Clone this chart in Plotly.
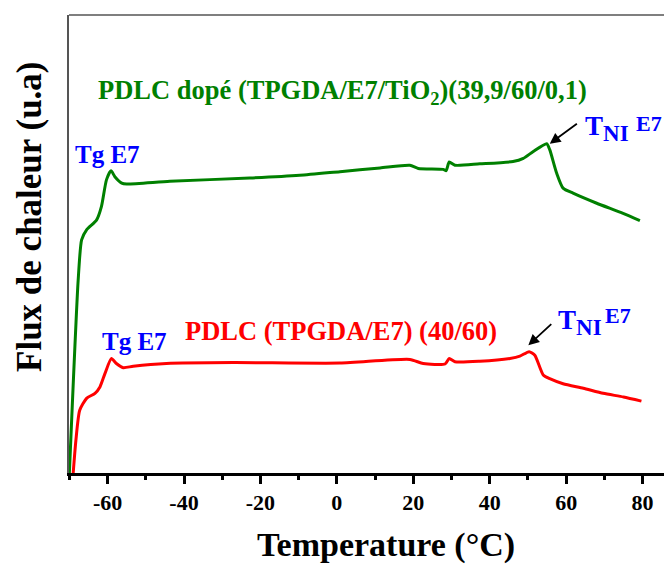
import plotly.graph_objects as go

# Temperature (°C) and heat flux (a.u.)
green_T = [-70.0, -67.7, -66.8, -65.5, -62.9, -61.6, -60.3, -59.1, -58.1, -56.3, -55.0,
           -43.7, -22.8, -9.7, 0.8, 11.3, 19.1, 21.3, 27.8, 28.6, 29.4, 30.9, 37.4,
           46.1, 48.8, 51.4, 54.9, 55.7, 57.5, 59.2, 61.8, 68.0, 74.9, 79.3]
green_Q = [0.0, 42.1, 50.9, 53.1, 55.2, 58.2, 64.0, 66.0, 64.7, 63.3, 63.1,
           63.7, 64.4, 65.0, 65.8, 66.6, 67.2, 66.5, 66.3, 66.0, 67.9, 67.2, 67.5,
           68.0, 68.7, 70.2, 71.9, 70.6, 65.5, 62.2, 61.1, 58.9, 56.7, 55.1]

red_T = [-69.0, -68.3, -67.3, -65.5, -63.3, -62.0, -60.7, -59.0, -57.7, -55.9, -53.3,
         -44.6, -27.1, 0.8, 19.1, 22.6, 28.3, 29.4, 30.9, 37.4, 45.3, 47.9, 50.3,
         51.8, 54.0, 55.7, 59.2, 64.5, 69.7, 75.0, 79.7]
red_Q = [0.0, 7.1, 13.7, 16.3, 17.4, 18.8, 21.7, 25.0, 23.9, 23.0, 23.3,
         23.9, 24.1, 24.0, 24.8, 23.9, 23.8, 25.0, 24.3, 24.4, 25.0, 25.5, 26.5,
         25.7, 21.4, 20.6, 19.5, 18.5, 17.4, 16.6, 15.7]

x_ticks = [-60, -40, -20, 0, 20, 40, 60, 80]

FONT = "Liberation Serif"

fig = go.Figure()
fig.add_trace(go.Scatter(x=green_T, y=green_Q, mode="lines",
                         line=dict(color="#008000", width=3, shape="spline", smoothing=0.6),
                         showlegend=False))
fig.add_trace(go.Scatter(x=red_T, y=red_Q, mode="lines",
                         line=dict(color="#ff0000", width=3, shape="spline", smoothing=0.6),
                         showlegend=False))

def txt(x, y, text, color, size, xanchor="left"):
    fig.add_annotation(x=x, y=y, xref="x", yref="y", text=text, showarrow=False,
                       xanchor=xanchor, yanchor="middle",
                       font=dict(family=FONT, size=size, color=color))

txt(-63.1, 83.2, "<b>PDLC dopé (TPGDA/E7/TiO<sub>2</sub>)(39,9/60/0,1)</b>", "#008000", 26.5)
txt(-40.3, 31.0, "<b>PDLC (TPGDA/E7) (40/60)</b>", "#ff0000", 26.5)
txt(-69.1, 69.5, "<b>Tg E7</b>", "#0000ff", 25)
txt(-62.0, 28.8, "<b>Tg E7</b>", "#0000ff", 25)
tni = "<b>T<sub><span style='font-size:23px'>NI</span></sub></b>"
txt(64.4, 75.3, tni, "#0000ff", 27)
txt(57.3, 32.9, tni, "#0000ff", 27)
txt(77.8, 76.4, "<b>E7</b>", "#0000ff", 22)
txt(69.6, 34.3, "<b>E7</b>", "#0000ff", 22)

for (tx, ty, hx, hy) in [(63.2, 76.5, 55.7, 71.9), (56.5, 32.8, 50.1, 27.9)]:
    fig.add_annotation(x=hx, y=hy, ax=tx, ay=ty, xref="x", yref="y", axref="x", ayref="y",
                       text="", showarrow=True, arrowhead=2, arrowsize=1.2,
                       arrowwidth=1.8, arrowcolor="black")

# axis titles (placed as in the reference, off-centre)
fig.add_annotation(text="<b>Flux de chaleur (u.a)</b>", xref="paper", yref="paper",
                   x=-0.0647, y=0.559, xanchor="center", yanchor="middle", textangle=-90,
                   showarrow=False, font=dict(family=FONT, size=35, color="black"))
fig.add_annotation(text="<b>Temperature (°C)</b>", xref="paper", yref="paper",
                   x=0.525, y=-0.158, xanchor="center", yanchor="middle",
                   showarrow=False, font=dict(family=FONT, size=34, color="black"))

fig.add_shape(type="line", xref="paper", yref="paper", x0=0, x1=1, y0=1, y1=1,
              line=dict(color="#555555", width=1.5))

fig.update_xaxes(range=[-70.1, 87.7], tickvals=x_ticks,
                 ticktext=[f"<b>{v}</b>" for v in x_ticks],
                 ticks="outside", ticklen=8, tickwidth=3, tickcolor="black",
                 minor=dict(dtick=10, tick0=0, ticks="outside", ticklen=4, tickwidth=2.5,
                            tickcolor="black"),
                 showline=True, linewidth=3, linecolor="black", showgrid=False, zeroline=False,
                 tickfont=dict(family=FONT, size=22, color="black"))
fig.update_yaxes(range=[0, 100], showticklabels=False, ticks="", showgrid=False, zeroline=False,
                 showline=True, linewidth=1.5, linecolor="#555555")

fig.update_layout(width=664, height=557, margin=dict(l=61, r=0, t=7, b=92),
                  plot_bgcolor="white", paper_bgcolor="white")

fig.write_html("out.html")
